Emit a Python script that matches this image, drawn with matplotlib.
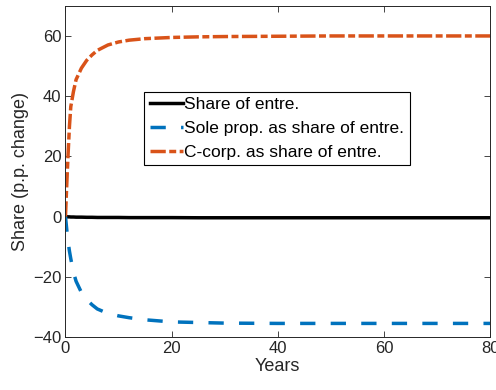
import numpy as np
import matplotlib
matplotlib.use("Agg")
import matplotlib.pyplot as plt

plt.rcParams['font.family'] = ['Liberation Sans', 'DejaVu Sans']
plt.rcParams['lines.scale_dashes'] = False

# years after the reform
years = [0, 0.25, 0.5, 0.75, 1, 1.5, 2, 3, 4, 5, 6, 8, 10, 12, 15, 20, 25, 30, 40, 50, 60, 70, 80]

# p.p. change
share_entre = [0, -0.05, -0.1, -0.1, -0.15, -0.15, -0.2, -0.2, -0.25, -0.25, -0.3, -0.3, -0.3,
               -0.35, -0.35, -0.35, -0.4, -0.4, -0.4, -0.4, -0.4, -0.4, -0.4]
sole_prop = [0, -4.5, -8.5, -11.5, -14, -18.5, -21.5, -25.2, -27.6, -29.3, -30.7, -32.2, -33,
             -33.6, -34.3, -35.0, -35.2, -35.4, -35.5, -35.5, -35.5, -35.5, -35.5]
c_corp = [0, 11, 21, 30, 36.5, 41.5, 45.5, 49.3, 51.9, 53.7, 55.2, 57, 58,
          58.6, 59.1, 59.5, 59.7, 59.8, 59.9, 60, 60, 60, 60]

labels = ['Share of entre.', 'Sole prop. as share of entre.', 'C-corp. as share of entre.']

fig = plt.figure(figsize=(4.96, 3.90), dpi=100)
ax = fig.add_axes([0.132, 0.136, 0.856, 0.849])

ax.plot(years, share_entre, color='black', lw=2.5, label=labels[0])
ax.plot(years, sole_prop, color='#0072BD', lw=2.5, dashes=(11, 11), label=labels[1])
ax.plot(years, c_corp, color='#D95319', lw=2.5, dashes=(11, 2.5, 5, 2.5), label=labels[2])

ax.set_xlim(0, 80)
ax.set_ylim(-40, 70)
ax.set_xticks([0, 20, 40, 60, 80])
ax.set_yticks([-40, -20, 0, 20, 40, 60])
ax.tick_params(direction='in', top=True, right=True, labelsize=12, colors='#262626',
               length=4, width=0.6, pad=3)
for s in ax.spines.values():
    s.set_color('#262626')
    s.set_linewidth(0.7)

ax.set_xlabel('Years', fontsize=13, color='#262626', labelpad=1)
ax.set_ylabel('Share (p.p. change)', fontsize=13, color='#262626', labelpad=3)

leg = ax.legend(loc='upper left', bbox_to_anchor=(0.186, 0.74), fontsize=12.5,
                fancybox=False, edgecolor='black', framealpha=1, handlelength=1.9,
                handletextpad=0.1, labelspacing=0.5, borderpad=0.3, borderaxespad=0)
leg.get_frame().set_linewidth(0.8)

fig.savefig('out.png', dpi=100)
